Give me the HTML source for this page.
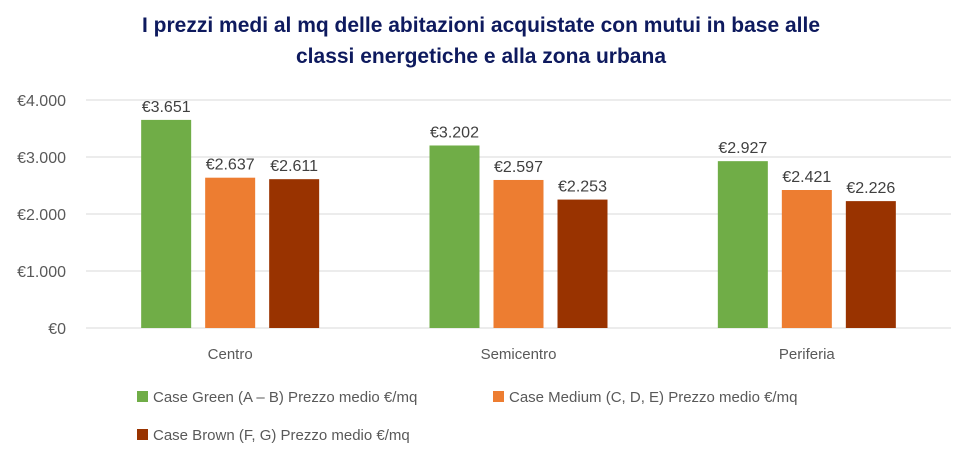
<!DOCTYPE html>
<html><head><meta charset="utf-8"><style>
body{margin:0;background:#fff;}
svg text{font-family:"Liberation Sans",Arial,sans-serif;}
</style></head><body>
<svg width="963" height="455" id="chart">
<text x="481" y="32" text-anchor="middle" font-size="21" font-weight="bold" fill="#0e1a5e">I prezzi medi al mq delle abitazioni acquistate con mutui in base alle</text>
<text x="481" y="63" text-anchor="middle" font-size="21" font-weight="bold" fill="#0e1a5e">classi energetiche e alla zona urbana</text>
<g id="grid"></g><g id="bars"></g><g id="labels"></g>
<g id="legend">
<rect x="137" y="391" width="11" height="11" fill="#70ad47"/>
<text x="153" y="402" font-size="15" fill="#595959">Case Green (A – B) Prezzo medio €/mq</text>
<rect x="493" y="391" width="11" height="11" fill="#ed7d31"/>
<text x="509" y="402" font-size="15" fill="#595959">Case Medium (C, D, E) Prezzo medio €/mq</text>
<rect x="137" y="429" width="11" height="11" fill="#993300"/>
<text x="153" y="440" font-size="15" fill="#595959">Case Brown (F, G) Prezzo medio €/mq</text>
</g>
</svg>
<script>
const categories=["Centro","Semicentro","Periferia"];
const green=[3651,3202,2927];
const medium=[2637,2597,2421];
const brown=[2611,2253,2226];
const ticks=[0,1000,2000,3000,4000];
const tickLabels=["€0","€1.000","€2.000","€3.000","€4.000"];
const NS="http://www.w3.org/2000/svg";
const x0=86,x1=951,yBase=328,yTop=100,maxV=4000;
const y=v=>yBase-(yBase-yTop)*v/maxV;
const bw=(x1-x0)/categories.length;
const fmt=v=>"€"+String(v).replace(/\B(?=(\d{3})+(?!\d))/g,".");
function mk(tag,attrs,parent){const e=document.createElementNS(NS,tag);for(const k in attrs)e.setAttribute(k,attrs[k]);document.getElementById(parent).appendChild(e);return e;}
ticks.forEach((t,i)=>{
 const l=mk("line",{x1:x0,x2:x1,y1:y(t),y2:y(t),stroke:"#d9d9d9","stroke-width":1},"grid");
 
 
 const tx=mk("text",{x:66,y:y(t)+6,"text-anchor":"end","font-size":"16",fill:"#595959"},"grid");
 tx.textContent=tickLabels[i];
 
 
});
const series=[{d:green,c:"#70ad47",n:"green"},{d:medium,c:"#ed7d31",n:"medium"},{d:brown,c:"#993300",n:"brown"}];
const barW=50,gap=14;
categories.forEach((cat,i)=>{
 const cx=x0+bw*(i+0.5);
 series.forEach((s,j)=>{
  const bx=cx+(j-1)*(barW+gap)-barW/2;
  const r=mk("rect",{x:bx,y:y(s.d[i]),width:barW,height:yBase-y(s.d[i]),fill:s.c},"bars");
  
  
  const t=mk("text",{x:bx+barW/2,y:y(s.d[i])-8,"text-anchor":"middle","font-size":"16",fill:"#404040"},"labels");
  t.textContent=fmt(s.d[i]);
  
  
 });
 const ct=mk("text",{x:cx,y:359,"text-anchor":"middle","font-size":"15",fill:"#595959"},"labels");
 ct.textContent=cat;
 
 
});
</script>
</body></html>
